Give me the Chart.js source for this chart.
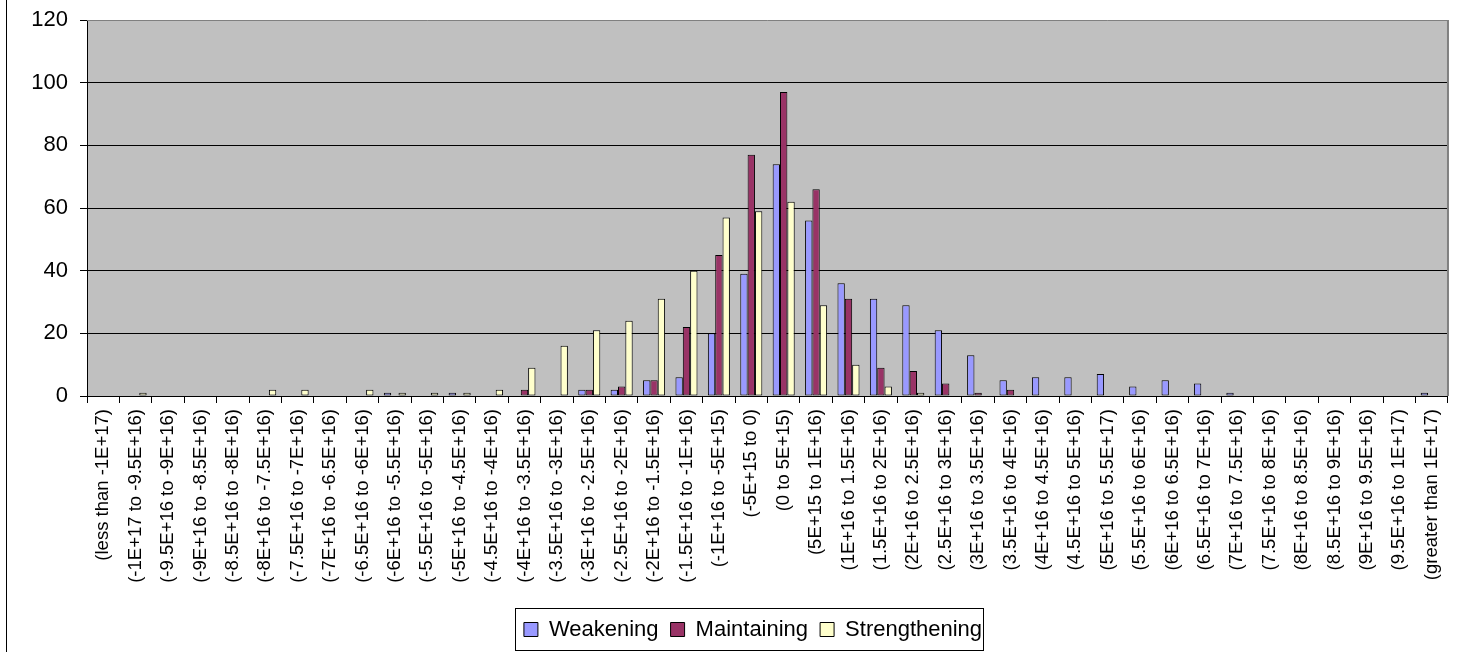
<!DOCTYPE html>
<html>
<head>
<meta charset="utf-8">
<title>Weakening / Maintaining / Strengthening</title>
<script src="https://cdn.jsdelivr.net/npm/chart.js@4/dist/chart.umd.min.js"></script>
<style>
  html, body { margin: 0; padding: 0; background: #fff; }
  #chart { display: block; }
</style>
</head>
<body>
<canvas id="chart" width="1460" height="652"></canvas>
<script>
// ------------------------------------------------------
// 分箱计数柱状图（Excel 风格）：三组 Weakening / Maintaining / Strengthening
// ------------------------------------------------------

// x 轴分箱标签（原图里 "5.5E+17" 的笔误也照抄）
const binLabels = [
  '(less than -1E+17)', '(-1E+17 to -9.5E+16)', '(-9.5E+16 to -9E+16)', '(-9E+16 to -8.5E+16)',
  '(-8.5E+16 to -8E+16)', '(-8E+16 to -7.5E+16)', '(-7.5E+16 to -7E+16)', '(-7E+16 to -6.5E+16)',
  '(-6.5E+16 to -6E+16)', '(-6E+16 to -5.5E+16)', '(-5.5E+16 to -5E+16)', '(-5E+16 to -4.5E+16)',
  '(-4.5E+16 to -4E+16)', '(-4E+16 to -3.5E+16)', '(-3.5E+16 to -3E+16)', '(-3E+16 to -2.5E+16)',
  '(-2.5E+16 to -2E+16)', '(-2E+16 to -1.5E+16)', '(-1.5E+16 to -1E+16)', '(-1E+16 to -5E+15)',
  '(-5E+15 to 0)', '(0 to 5E+15)', '(5E+15 to 1E+16)', '(1E+16 to 1.5E+16)',
  '(1.5E+16 to 2E+16)', '(2E+16 to 2.5E+16)', '(2.5E+16 to 3E+16)', '(3E+16 to 3.5E+16)',
  '(3.5E+16 to 4E+16)', '(4E+16 to 4.5E+16)', '(4.5E+16 to 5E+16)', '(5E+16 to 5.5E+17)',
  '(5.5E+16 to 6E+16)', '(6E+16 to 6.5E+16)', '(6.5E+16 to 7E+16)', '(7E+16 to 7.5E+16)',
  '(7.5E+16 to 8E+16)', '(8E+16 to 8.5E+16)', '(8.5E+16 to 9E+16)', '(9E+16 to 9.5E+16)',
  '(9.5E+16 to 1E+17)', '(greater than 1E+17)'
]

// 各组计数（从图上读出来的）
const weakening = [
  0, 0, 0, 0, 0, 0, 0, 0, 0, 1, 0, 1, 0, 0, 0, 2, 2, 5, 6, 20, 39,
  74, 56, 36, 31, 29, 21, 13, 5, 6, 6, 7, 3, 5, 4, 1, 0, 0, 0, 0, 0, 1
]
const maintaining = [
  0, 0, 0, 0, 0, 0, 0, 0, 0, 0, 0, 0, 0, 2, 0, 2, 3, 5, 22, 45, 77,
  97, 66, 31, 9, 8, 4, 1, 2, 0, 0, 0, 0, 0, 0, 0, 0, 0, 0, 0, 0, 0
]
const strengthening = [
  0, 1, 0, 0, 0, 2, 2, 0, 2, 1, 1, 1, 2, 9, 16, 21, 24, 31, 40, 57, 59,
  62, 29, 10, 3, 1, 0, 0, 0, 0, 0, 0, 0, 0, 0, 0, 0, 0, 0, 0, 0, 0
]

// y 轴范围
const Y_MIN = 0
const Y_MAX = 120
const Y_STEP = 20

const PLOT_BG = '#c0c0c0'
const FRAME_GRAY = '#808080'

// 原图的图表区右侧被裁掉了，所以图例中心比画布中心偏右一点
const LEGEND_SHIFT = 24

Chart.defaults.font.family = '"Liberation Sans", Arial, sans-serif'
Chart.defaults.color = '#000'

// 背景、绘图区边框、图例外框（Excel 的样子）
const excelFrame = {
  id: 'excelFrame',
  afterLayout (chart) {
    // 把图例整体往右挪，legend 插件随后的 afterUpdate 会按新位置重算 hitbox
    const lg = chart.legend
    if (lg) {
      lg.left += LEGEND_SHIFT
      lg.right += LEGEND_SHIFT
    }
  },
  beforeDraw (chart) {
    const { ctx, chartArea: a } = chart
    ctx.save()
    ctx.fillStyle = '#fff'
    ctx.fillRect(0, 0, chart.width, chart.height)
    ctx.fillStyle = PLOT_BG
    ctx.fillRect(a.left, a.top, a.right - a.left, a.bottom - a.top)
    ctx.restore()
  },
  afterDraw (chart) {
    const { ctx, chartArea: a } = chart
    ctx.save()
    // 绘图区上 / 右边框
    ctx.strokeStyle = FRAME_GRAY
    ctx.lineWidth = 1
    ctx.beginPath()
    ctx.moveTo(a.left, a.top + 0.5)
    ctx.lineTo(a.right, a.top + 0.5)
    ctx.stroke()
    ctx.lineWidth = 2
    ctx.beginPath()
    ctx.moveTo(a.right, a.top)
    ctx.lineTo(a.right, a.bottom)
    ctx.stroke()

    // 整个图表区的左边框（右 / 上 / 下在原图里被裁掉了）
    ctx.strokeStyle = '#000'
    ctx.lineWidth = 1
    ctx.beginPath()
    ctx.moveTo(6.5, 0)
    ctx.lineTo(6.5, chart.height)
    ctx.stroke()

    // 图例外框
    const boxes = chart.legend && chart.legend.legendHitBoxes
    if (boxes && boxes.length) {
      const first = boxes[0]
      const last = boxes[boxes.length - 1]
      const x0 = Math.round(first.left - 9) + 0.5
      const x1 = Math.round(last.left + last.width + 1) + 0.5
      const y0 = Math.round(first.top - 11) + 0.5
      const y1 = Math.round(first.top + first.height + 9) + 0.5
      ctx.strokeRect(x0, y0, x1 - x0, y1 - y0)
    }
    ctx.restore()
  }
}

const barStyle = (color) => ({
  backgroundColor: color,
  borderColor: '#000',
  borderWidth: 1,
  borderSkipped: false,
  categoryPercentage: 0.68,
  barPercentage: 1.0
})

new Chart(document.getElementById('chart'), {
  type: 'bar',
  data: {
    labels: binLabels,
    datasets: [
      { label: 'Weakening', data: weakening, ...barStyle('#9999ff') },
      { label: 'Maintaining', data: maintaining, ...barStyle('#993366') },
      { label: 'Strengthening', data: strengthening, ...barStyle('#ffffcc') }
    ]
  },
  options: {
    responsive: false,
    devicePixelRatio: 1,
    animation: false,
    layout: { padding: { left: 0, right: 2, top: 20, bottom: 1.5 } },
    plugins: {
      legend: {
        position: 'bottom',
        labels: {
          boxWidth: 14,
          boxHeight: 14,
          padding: 12,
          font: { size: 22 },
          color: '#000'
        }
      },
      tooltip: { enabled: false }
    },
    scales: {
      x: {
        grid: {
          drawOnChartArea: false,
          tickLength: 7,
          color: '#000'
        },
        border: { color: '#000', width: 1 },
        ticks: {
          autoSkip: false,
          minRotation: 90,
          maxRotation: 90,
          padding: 6,
          font: { size: 18.5 },
          color: '#000'
        },
        afterFit (scale) { scale.height = 210.5 }
      },
      y: {
        min: Y_MIN,
        max: Y_MAX,
        grid: {
          color: (c) => (c.tick && c.tick.value === Y_MAX ? 'rgba(0,0,0,0)' : '#000'),
          tickColor: '#000',
          tickLength: 7
        },
        border: { color: '#000', width: 1 },
        ticks: {
          stepSize: Y_STEP,
          padding: 12,
          font: { size: 22 },
          color: '#000'
        },
        afterFit (scale) {
          // 宽度固定；上下不再为刻度文字额外留白，顶部位置由 layout.padding 决定
          scale.width = 87
          scale.paddingTop = 0
          scale.paddingBottom = 0
        }
      }
    }
  },
  plugins: [excelFrame]
})
</script>
</body>
</html>
